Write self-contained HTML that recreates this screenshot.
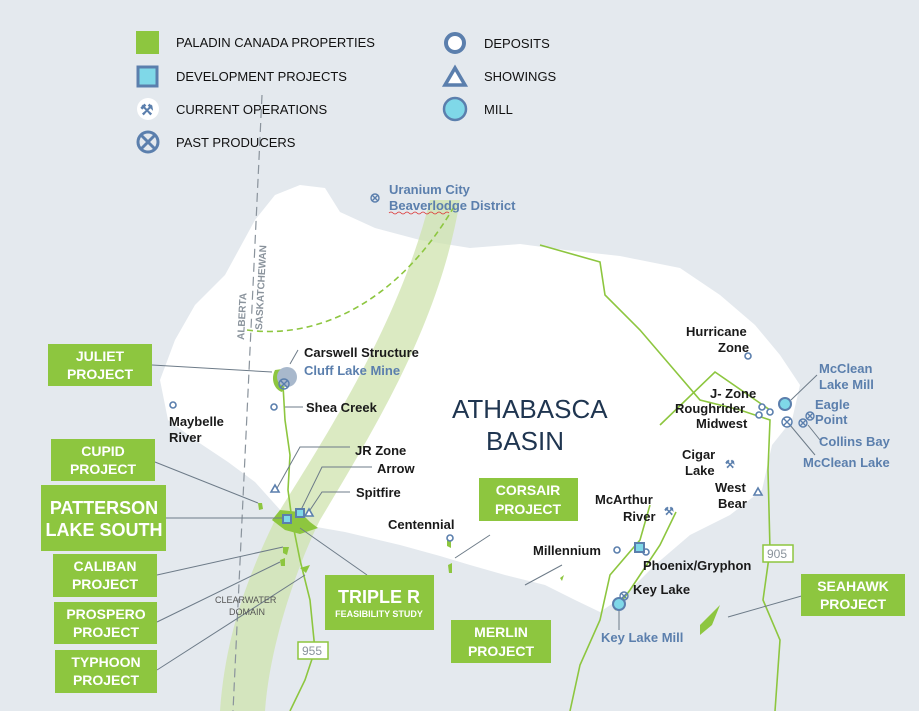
<!DOCTYPE html>
<html><head><meta charset="utf-8"><style>
body{margin:0;background:#e4e9ee;}
svg{display:block;font-family:"Liberation Sans",Arial,sans-serif;}
.lg{font-size:13px;fill:#111;}
.k{font-size:13px;font-weight:bold;fill:#1a1a1a;}
.b{font-size:13px;font-weight:bold;fill:#5b7fad;}
.w{font-weight:bold;fill:#fff;text-anchor:middle;}
.ln{stroke:#6d7b88;stroke-width:1;fill:none;}
.rd{stroke:#8dc63f;stroke-width:1.6;fill:none;}
</style></head><body>
<svg width="919" height="711" viewBox="0 0 919 711">
<rect width="919" height="711" fill="#e4e9ee"/>
<path d="M175,340 L195,305 L225,275 L255,220 L275,195 L300,185 L325,188 L340,212 L375,228 L420,240 L470,248 L520,244 L565,250 L620,256 L680,268 L720,295 L755,325 L780,355 L800,385 L792,420 L772,445 L762,490 L730,515 L690,535 L655,565 L625,595 L600,612 L575,600 L545,585 L505,575 L470,565 L440,556 L400,545 L345,532 L305,525 L282,512 L255,482 L228,462 L198,442 L168,420 L160,380 Z" fill="#fff"/>
<path d="M430,200 C400,320 330,430 280,510 C245,580 225,640 220,711 L265,711 C270,640 300,560 320,520 C380,420 440,320 460,200 Z" fill="#cfe3ad" opacity="0.75"/>
<path d="M262,95 L233,711" stroke="#8a939c" stroke-width="1.2" stroke-dasharray="9,5" fill="none"/>
<path d="M247,330 C320,340 400,300 455,205" stroke="#8dc63f" stroke-width="1.6" stroke-dasharray="6,4" fill="none"/>
<text transform="translate(244,340) rotate(-87)" font-size="10" font-weight="bold" fill="#8a939c">ALBERTA</text>
<text transform="translate(262,330) rotate(-87)" font-size="10" font-weight="bold" fill="#8a939c">SASKATCHEWAN</text>
<path class="rd" d="M283,385 L285,420 L290,455 L288,490 L292,520 L300,560 L310,600 L315,650 L305,680 L290,711"/>
<path class="rd" d="M540,245 L600,262 L605,295 L640,330 L700,400 L740,410 L770,420 L768,470 L770,550 L763,600 L780,640 L775,711"/>
<path class="rd" d="M660,425 L715,372 L770,410"/>
<path class="rd" d="M650,505 L640,540 L610,575 L600,620 L580,665 L570,711"/>
<path class="rd" d="M676,512 L660,545 L630,590 L615,610"/>
<path d="M272,520 L280,510 L300,512 L310,522 L318,528 L300,534 L285,530 Z" fill="#8dc63f"/>
<path d="M275,370 C270,380 275,390 282,392 L285,386 C280,380 282,372 290,368 Z" fill="#8dc63f"/>
<circle cx="287" cy="377" r="10" fill="#a8b8cc"/>
<path d="M258,503 l4,0 l1,6 l-4,1z M283,547 l6,0 l-2,8 l-4,-2z M280,560 l5,-2 l0,8 l-4,0z M300,568 l10,-3 l-4,8z M447,540 l4,0 l0,8 l-4,-2z M448,565 l4,-2 l0,10 l-3,0z M560,578 l4,-3 l-2,6z M700,625 l20,-20 l-8,20 l-12,10z" fill="#8dc63f"/>
<g class="ln">
<line x1="152" y1="365" x2="272" y2="372"/><line x1="155" y1="462" x2="258" y2="503"/>
<line x1="165" y1="518" x2="285" y2="518"/><line x1="157" y1="575" x2="283" y2="547"/>
<line x1="157" y1="622" x2="280" y2="562"/><line x1="157" y1="670" x2="305" y2="575"/>
<line x1="300" y1="528" x2="367" y2="575"/><line x1="290" y1="364" x2="298" y2="350"/>
<polyline points="276,490 300,447 350,447"/><polyline points="300,512 322,467 372,467"/><polyline points="310,510 322,492 350,492"/>
<line x1="285" y1="407" x2="303" y2="407"/><line x1="455" y1="558" x2="490" y2="535"/>
<line x1="525" y1="585" x2="562" y2="565"/><line x1="728" y1="617" x2="805" y2="595"/>
<line x1="791" y1="400" x2="817" y2="375"/><line x1="790" y1="425" x2="815" y2="455"/>
<line x1="808" y1="425" x2="820" y2="440"/><line x1="619" y1="610" x2="619" y2="630"/>
</g>
<g fill="#fff" stroke="#5b7fad" stroke-width="1.6">
<circle cx="274" cy="407" r="3"/><circle cx="173" cy="405" r="3"/><circle cx="450" cy="538" r="3"/>
<circle cx="617" cy="550" r="3"/><circle cx="646" cy="552" r="3"/><circle cx="748" cy="356" r="3"/>
<circle cx="762" cy="407" r="3"/><circle cx="770" cy="412" r="3"/><circle cx="759" cy="415" r="3"/>
<path d="M271,492 l4,-7 l4,7z"/><path d="M305,516 l4,-7 l4,7z"/><path d="M754,495 l4,-7 l4,7z"/>
</g>
<g fill="#7fd8e8" stroke="#5b7fad" stroke-width="2">
<rect x="283" y="515" width="8" height="8"/><rect x="296" y="509" width="8" height="8"/><rect x="635" y="543" width="9" height="9"/>
<circle cx="785" cy="404" r="6"/><circle cx="619" cy="604" r="6"/>
</g>
<g fill="none" stroke="#5b7fad" stroke-width="1.4">
<circle cx="284" cy="384" r="5"/><path d="M280,380l8,8M288,380l-8,8"/>
<circle cx="787" cy="422" r="5"/><path d="M783,418l8,8M791,418l-8,8"/>
<circle cx="803" cy="423" r="4"/><path d="M800,420l6,6M806,420l-6,6"/>
<circle cx="810" cy="416" r="4"/><path d="M807,413l6,6M813,413l-6,6"/>
<circle cx="624" cy="596" r="4"/><path d="M621,593l6,6M627,593l-6,6"/>
<circle cx="375" cy="198" r="4"/><path d="M372,195l6,6M378,195l-6,6"/>
</g>
<text x="725" y="468" font-size="11" fill="#5b7fad" font-weight="bold">⚒</text>
<text x="664" y="515" font-size="11" fill="#5b7fad" font-weight="bold">⚒</text>
<rect x="763" y="545" width="30" height="17" fill="#fff" stroke="#8dc63f" stroke-width="1.5"/><text x="767" y="558" font-size="12" fill="#8a939c">905</text>
<rect x="298" y="642" width="30" height="17" fill="#fff" stroke="#8dc63f" stroke-width="1.5"/><text x="302" y="655" font-size="12" fill="#8a939c">955</text>
<rect x="136" y="31" width="23" height="23" fill="#8dc63f"/><text class="lg" x="176" y="47">PALADIN CANADA PROPERTIES</text>
<rect x="138" y="67" width="19" height="19" fill="#7fd8e8" stroke="#5b7fad" stroke-width="3"/><text class="lg" x="176" y="81">DEVELOPMENT PROJECTS</text>
<circle cx="148" cy="109" r="11" fill="#fff"/><text x="140" y="115" font-size="15" fill="#5b7fad" font-weight="bold">⚒</text><text class="lg" x="176" y="114">CURRENT OPERATIONS</text>
<circle cx="148" cy="142" r="10" fill="none" stroke="#5b7fad" stroke-width="3"/><path d="M141,135l14,14M155,135l-14,14" stroke="#5b7fad" stroke-width="3"/><text class="lg" x="176" y="147">PAST PRODUCERS</text>
<circle cx="455" cy="43" r="9" fill="#fff" stroke="#5b7fad" stroke-width="4"/><text class="lg" x="484" y="48">DEPOSITS</text>
<path d="M445,85 L455,68 L465,85Z" fill="#fff" stroke="#5b7fad" stroke-width="3.5"/><text class="lg" x="484" y="81">SHOWINGS</text>
<circle cx="455" cy="109" r="11" fill="#7fd8e8" stroke="#5b7fad" stroke-width="2.5"/><text class="lg" x="484" y="114">MILL</text>
<text class="b" x="389" y="194">Uranium City</text><text class="b" x="389" y="210">Beaverlodge District</text>
<path d="M389,213 q2,-2 4,0 t4,0 t4,0 t4,0 t4,0 t4,0 t4,0 t4,0 t4,0 t4,0 t4,0 t4,0 t4,0 t4,0 t4,0" stroke="#d33" stroke-width="0.8" fill="none"/>
<text x="452" y="418" font-size="26" fill="#1f3550">ATHABASCA</text>
<text x="486" y="450" font-size="26" fill="#1f3550">BASIN</text>
<text class="k" x="304" y="357">Carswell Structure</text><text class="b" x="304" y="375">Cluff Lake Mine</text>
<text class="k" x="306" y="412">Shea Creek</text>
<text class="k" x="169" y="426">Maybelle</text><text class="k" x="169" y="442">River</text>
<text class="k" x="355" y="455">JR Zone</text><text class="k" x="377" y="473">Arrow</text><text class="k" x="356" y="497">Spitfire</text>
<text class="k" x="388" y="529">Centennial</text>
<text class="k" x="686" y="336">Hurricane</text><text class="k" x="718" y="352">Zone</text>
<text class="k" x="710" y="398">J- Zone</text><text class="k" x="675" y="413">Roughrider</text><text class="k" x="696" y="428">Midwest</text>
<text class="k" x="682" y="459">Cigar</text><text class="k" x="685" y="475">Lake</text>
<text class="k" x="715" y="492">West</text><text class="k" x="718" y="508">Bear</text>
<text class="k" x="595" y="504">McArthur</text><text class="k" x="623" y="521">River</text>
<text class="k" x="533" y="555">Millennium</text><text class="k" x="643" y="570">Phoenix/Gryphon</text>
<text class="k" x="633" y="594">Key Lake</text><text class="b" x="601" y="642">Key Lake Mill</text>
<text class="b" x="819" y="373">McClean</text><text class="b" x="819" y="389">Lake Mill</text>
<text class="b" x="815" y="409">Eagle</text><text class="b" x="815" y="424">Point</text>
<text class="b" x="819" y="446">Collins Bay</text><text class="b" x="803" y="467">McClean Lake</text>
<text x="215" y="603" font-size="9" fill="#555">CLEARWATER</text><text x="229" y="615" font-size="9" fill="#555">DOMAIN</text>
<g fill="#8dc63f">
<rect x="48" y="344" width="104" height="42"/><rect x="51" y="439" width="104" height="42"/>
<rect x="41" y="485" width="125" height="66"/><rect x="53" y="554" width="104" height="43"/>
<rect x="54" y="602" width="103" height="42"/><rect x="55" y="650" width="102" height="43"/>
<rect x="325" y="575" width="109" height="55"/><rect x="479" y="478" width="99" height="43"/>
<rect x="451" y="620" width="100" height="43"/><rect x="801" y="574" width="104" height="42"/>
</g>
<g class="w" font-size="14">
<text x="100" y="361">JULIET</text><text x="100" y="379">PROJECT</text>
<text x="103" y="456">CUPID</text><text x="103" y="474">PROJECT</text>
<text x="105" y="571">CALIBAN</text><text x="105" y="589">PROJECT</text>
<text x="106" y="619">PROSPERO</text><text x="106" y="637">PROJECT</text>
<text x="106" y="667">TYPHOON</text><text x="106" y="685">PROJECT</text>
<text x="528" y="495">CORSAIR</text><text x="528" y="514">PROJECT</text>
<text x="501" y="637">MERLIN</text><text x="501" y="656">PROJECT</text>
<text x="853" y="591">SEAHAWK</text><text x="853" y="609">PROJECT</text>
</g>
<text class="w" x="104" y="514" font-size="18">PATTERSON</text><text class="w" x="104" y="536" font-size="18">LAKE SOUTH</text>
<text class="w" x="379" y="603" font-size="18">TRIPLE R</text><text class="w" x="379" y="617" font-size="9">FEASIBILITY STUDY</text>
</svg>
</body></html>
